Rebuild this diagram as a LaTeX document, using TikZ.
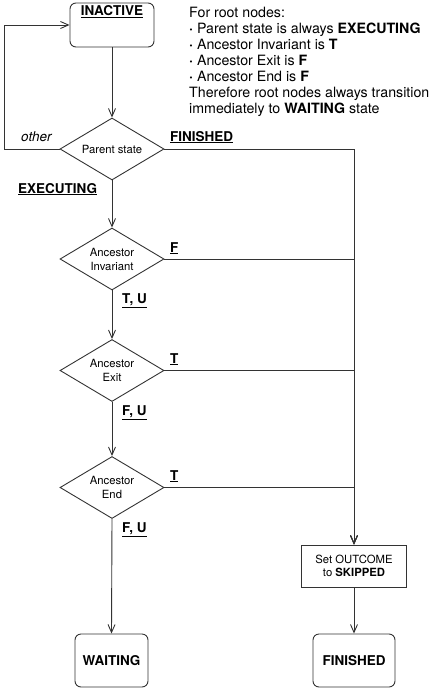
\documentclass[tikz,border=0pt]{standalone}
\usepackage{fontspec}
\setmainfont{TeX Gyre Heros}
\usetikzlibrary{shapes.geometric,arrows.meta}
\begin{document}
\begin{tikzpicture}[x=1pt,y=-1pt,
  line/.style={line width=0.9pt,draw=black!80},
  arr/.style={line,-{Straight Barb[length=8pt,width=7pt,line width=0.9pt]}},
  dec/.style={diamond,line,aspect=1.68,minimum width=104pt,minimum height=62pt,inner sep=0pt,
     align=center,font=\fontsize{11.3}{14}\selectfont},
  state/.style={rectangle,rounded corners=6pt,line,inner sep=0pt,font=\fontsize{13.5}{16}\selectfont\bfseries},
  lab/.style={anchor=base west,inner sep=0pt,font=\fontsize{13.5}{16}\selectfont\bfseries}]
\useasboundingbox (0,0) rectangle (432,690);
% nodes
\node[state,minimum width=84pt,minimum height=44pt,
  label={[anchor=base,inner sep=0pt,font=\fontsize{13.5}{16}\selectfont\bfseries,yshift=-13pt]north:\underline{INACTIVE}}]
  (inactive) at (112,25) {};
\node[dec] (parent) at (112,149) {Parent state};
\node[dec] (inv) at (112,259) {Ancestor\\Invariant};
\node[dec] (exit) at (112,370.5) {Ancestor\\Exit};
\node[dec] (end) at (112,487.5) {Ancestor\\End};
\node[state,minimum width=73pt,minimum height=53pt] (waiting) at (111.5,660.5) {WAITING};
\node[state,minimum width=82pt,minimum height=53pt] (finished) at (354,660.5) {FINISHED};
\node[rectangle,line,minimum width=105pt,minimum height=42pt,inner sep=0pt,align=center,
  font=\fontsize{11.3}{13.5}\selectfont] (skip) at (354,566) {Set OUTCOME\\to \textbf{SKIPPED}};
% note
\node[anchor=north west,inner sep=0pt,align=left,font=\fontsize{14.2}{16}\selectfont] (note) at (189,6.5)
 {For root nodes:\\
  \textbf{·} Parent state is always \textbf{EXECUTING}\\
  \textbf{·} Ancestor Invariant is \textbf{T}\\
  \textbf{·} Ancestor Exit is \textbf{F}\\
  \textbf{·} Ancestor End is \textbf{F}\\
  Therefore root nodes always transition\\
  immediately to \textbf{WAITING} state};
% labels
\node[lab,font=\fontsize{13.5}{16}\selectfont\itshape] (lother) at (21,141) {other};
\node[lab] (lfin) at (170,141) {\underline{FINISHED}};
\node[lab] (lexe) at (18,193) {\underline{EXECUTING}};
\node[lab] (lf1) at (170,252) {\underline{F}};
\node[lab] (ltu) at (122,303) {\underline{T, U}};
\node[lab] (lt1) at (170,363) {\underline{T}};
\node[lab] (lfu1) at (122,415) {\underline{F, U}};
\node[lab] (lt2) at (170,480) {\underline{T}};
\node[lab] (lfu2) at (122,532) {\underline{F, U}};
% connectors
\coordinate (lc) at (4,0);
\draw[arr] (inactive.south) -- (parent.north);
\draw[arr] (parent.west) -- (parent.west -| lc) -- (lc |- inactive.west) -- (inactive.west);
\draw[arr] (parent.south) -- (inv.north);
\draw[arr] (inv.south) -- (exit.north);
\draw[arr] (exit.south) -- (end.north);
\draw[arr] (end.south) -- (waiting.north);
\draw[arr] (parent.east) -| (skip.north);
\draw[arr] (inv.east) -| (skip.north);
\draw[arr] (exit.east) -| (skip.north);
\draw[arr] (end.east) -| (skip.north);
\draw[arr] (skip.south) -- (finished.north);
\end{tikzpicture}
\end{document}
